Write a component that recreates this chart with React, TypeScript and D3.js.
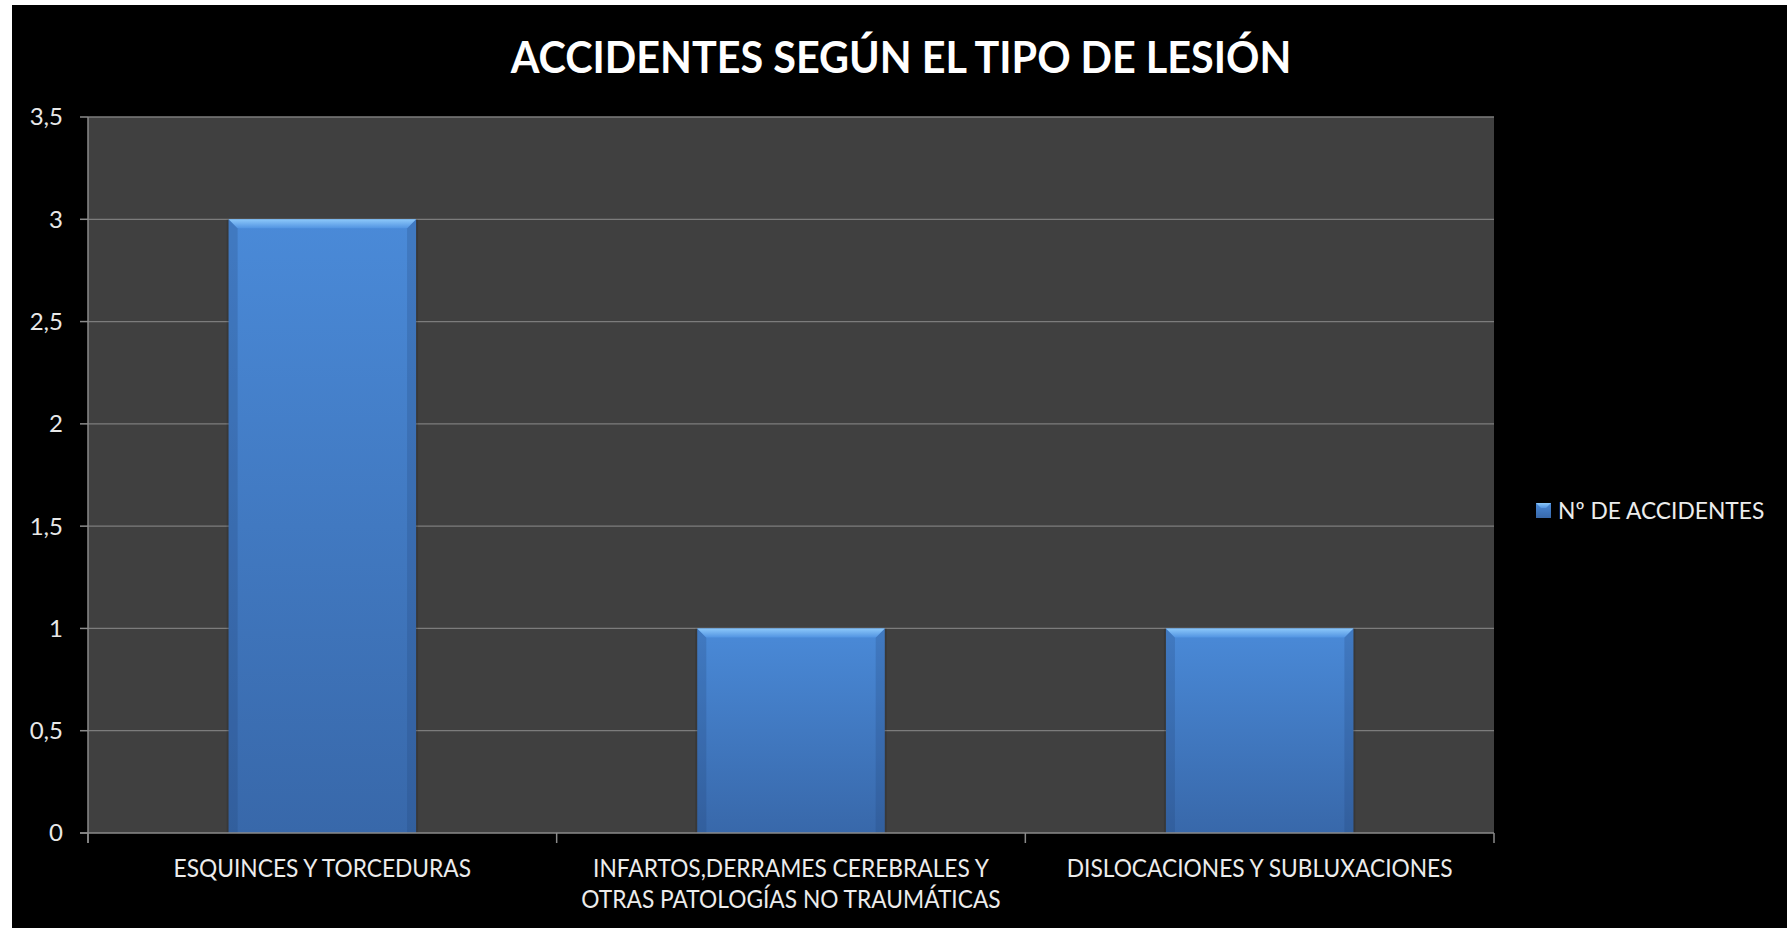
import { useEffect, useRef } from 'react';
import * as d3 from 'd3';

const title = 'ACCIDENTES SEGÚN EL TIPO DE LESIÓN';
const seriesName = 'Nº DE ACCIDENTES';
const categories = [
  ['ESQUINCES Y TORCEDURAS'],
  ['INFARTOS,DERRAMES CEREBRALES Y', 'OTRAS PATOLOGÍAS NO TRAUMÁTICAS'],
  ['DISLOCACIONES Y SUBLUXACIONES'],
];
const accidents = [3, 1, 1];
const yTicks = [0, 0.5, 1, 1.5, 2, 2.5, 3, 3.5];

export default function App() {
  const svgRef = useRef<SVGSVGElement>(null);
  const width = 1787;
  const height = 928;

  useEffect(() => {
    if (!svgRef.current) return;
    const svg = d3.select(svgRef.current);
    svg.selectAll('*').remove();

    const plot = { left: 88, top: 117, right: 1494, bottom: 833 };
    const font = 'Lato, "Open Sans", sans-serif';

    const defs = svg.append('defs');
    const body = defs.append('linearGradient').attr('id', 'barBody')
      .attr('x1', 0).attr('y1', 0).attr('x2', 0).attr('y2', 1);
    body.append('stop').attr('offset', '0%').attr('stop-color', '#4a8ad8');
    body.append('stop').attr('offset', '100%').attr('stop-color', '#3868aa');
    const topGrad = defs.append('linearGradient').attr('id', 'barTop')
      .attr('x1', 0).attr('y1', 0).attr('x2', 0).attr('y2', 1);
    topGrad.append('stop').attr('offset', '0%').attr('stop-color', '#8cc8fa');
    topGrad.append('stop').attr('offset', '100%').attr('stop-color', '#5294e2');

    svg.append('rect').attr('width', width).attr('height', height).attr('fill', '#ffffff');
    svg.append('rect').attr('x', 12).attr('y', 5).attr('width', width - 12).attr('height', height - 5).attr('fill', '#000000');

    const x = d3.scaleBand<number>()
      .domain(accidents.map((_, i) => i))
      .range([plot.left, plot.right])
      .padding(0);
    const y = d3.scaleLinear().domain([0, 3.5]).range([plot.bottom, plot.top]);
    const barW = x.bandwidth() * 0.4;

    svg.append('rect')
      .attr('x', plot.left).attr('y', plot.top)
      .attr('width', plot.right - plot.left).attr('height', plot.bottom - plot.top)
      .attr('fill', '#404040');

    // gridlines
    svg.append('g').selectAll('line').data(yTicks.filter(t => t > 0)).join('line')
      .attr('x1', plot.left).attr('x2', plot.right)
      .attr('y1', d => y(d)).attr('y2', d => y(d))
      .attr('stroke', '#7c7c7c').attr('stroke-width', 1.3);

    // bars with bevel
    const bev = 9;
    const bars = svg.append('g').selectAll('g').data(accidents).join('g');
    bars.each(function (d, i) {
      const g = d3.select(this);
      const bx = (x(i) as number) + (x.bandwidth() - barW) / 2;
      const by = y(d);
      const bb = y(0);
      g.append('rect').attr('x', bx - 2).attr('y', by).attr('width', barW + 4).attr('height', bb - by)
        .attr('fill', '#000').attr('opacity', 0.12);
      g.append('rect').attr('x', bx).attr('y', by).attr('width', barW).attr('height', bb - by)
        .attr('fill', 'url(#barBody)');
      g.append('path')
        .attr('d', `M${bx},${by}L${bx + bev},${by + bev}L${bx + bev},${bb}L${bx},${bb}Z`)
        .attr('fill', '#1e3f70').attr('opacity', 0.22);
      g.append('path')
        .attr('d', `M${bx + barW},${by}L${bx + barW - bev},${by + bev}L${bx + barW - bev},${bb}L${bx + barW},${bb}Z`)
        .attr('fill', '#1e3f70').attr('opacity', 0.22);
      g.append('path')
        .attr('d', `M${bx},${by}L${bx + barW},${by}L${bx + barW - bev},${by + bev}L${bx + bev},${by + bev}Z`)
        .attr('fill', 'url(#barTop)');
    });

    // axes lines
    svg.append('line').attr('x1', plot.left).attr('x2', plot.left)
      .attr('y1', plot.top).attr('y2', plot.bottom + 10)
      .attr('stroke', '#8a8a8a').attr('stroke-width', 1.5);
    svg.append('line').attr('x1', plot.left - 8).attr('x2', plot.right)
      .attr('y1', plot.bottom).attr('y2', plot.bottom)
      .attr('stroke', '#8a8a8a').attr('stroke-width', 1.5);

    // y ticks
    const yAxis = svg.append('g').selectAll('g').data(yTicks).join('g')
      .attr('transform', d => `translate(0,${y(d)})`);
    yAxis.append('line').attr('x1', plot.left - 8).attr('x2', plot.left)
      .attr('stroke', '#8a8a8a').attr('stroke-width', 1.5);
    yAxis.append('text')
      .attr('x', 63).attr('dy', '0.35em')
      .attr('text-anchor', 'end')
      .style('font-family', font).style('font-size', '24px')
      .attr('fill', '#e8e8e8')
      .text(d => String(d).replace('.', ','));

    // x ticks at band edges
    const edges = accidents.map((_, i) => x(i) as number).concat([plot.right]);
    svg.append('g').selectAll('line').data(edges).join('line')
      .attr('x1', d => d).attr('x2', d => d)
      .attr('y1', plot.bottom).attr('y2', plot.bottom + 10)
      .attr('stroke', '#8a8a8a').attr('stroke-width', 1.5);

    // x labels
    const xl = svg.append('g').selectAll('g').data(categories).join('g')
      .attr('transform', (_, i) => `translate(${(x(i) as number) + x.bandwidth() / 2},0)`);
    xl.each(function (lines) {
      const g = d3.select(this);
      lines.forEach((line, j) => {
        g.append('text')
          .attr('transform', `translate(0,${877 + j * 31}) scale(0.91,1)`)
          .attr('text-anchor', 'middle')
          .style('font-family', font).style('font-size', '25px')
          .attr('fill', '#ececec')
          .text(line);
      });
    });

    // title
    svg.append('text')
      .attr('transform', 'translate(901,73) scale(0.94,1)')
      .attr('text-anchor', 'middle')
      .style('font-family', font).style('font-size', '44px').style('font-weight', 700)
      .attr('fill', '#ffffff')
      .text(title);

    // legend
    const lg = svg.append('g').attr('transform', 'translate(1536,503)');
    lg.append('rect').attr('width', 15).attr('height', 15).attr('fill', 'url(#barBody)');
    lg.append('path').attr('d', 'M0,0L15,0L10,5L5,5Z').attr('fill', 'url(#barTop)');
    lg.append('text')
      .attr('transform', 'translate(22,15.5) scale(0.95,1)')
      .style('font-family', font).style('font-size', '24px')
      .attr('fill', '#ececec')
      .text(seriesName);
  }, []);

  return (
    <div style={{ position: 'absolute', left: 0, top: 0 }}>
      <svg ref={svgRef} width={width} height={height} style={{ display: 'block' }} />
    </div>
  );
}
